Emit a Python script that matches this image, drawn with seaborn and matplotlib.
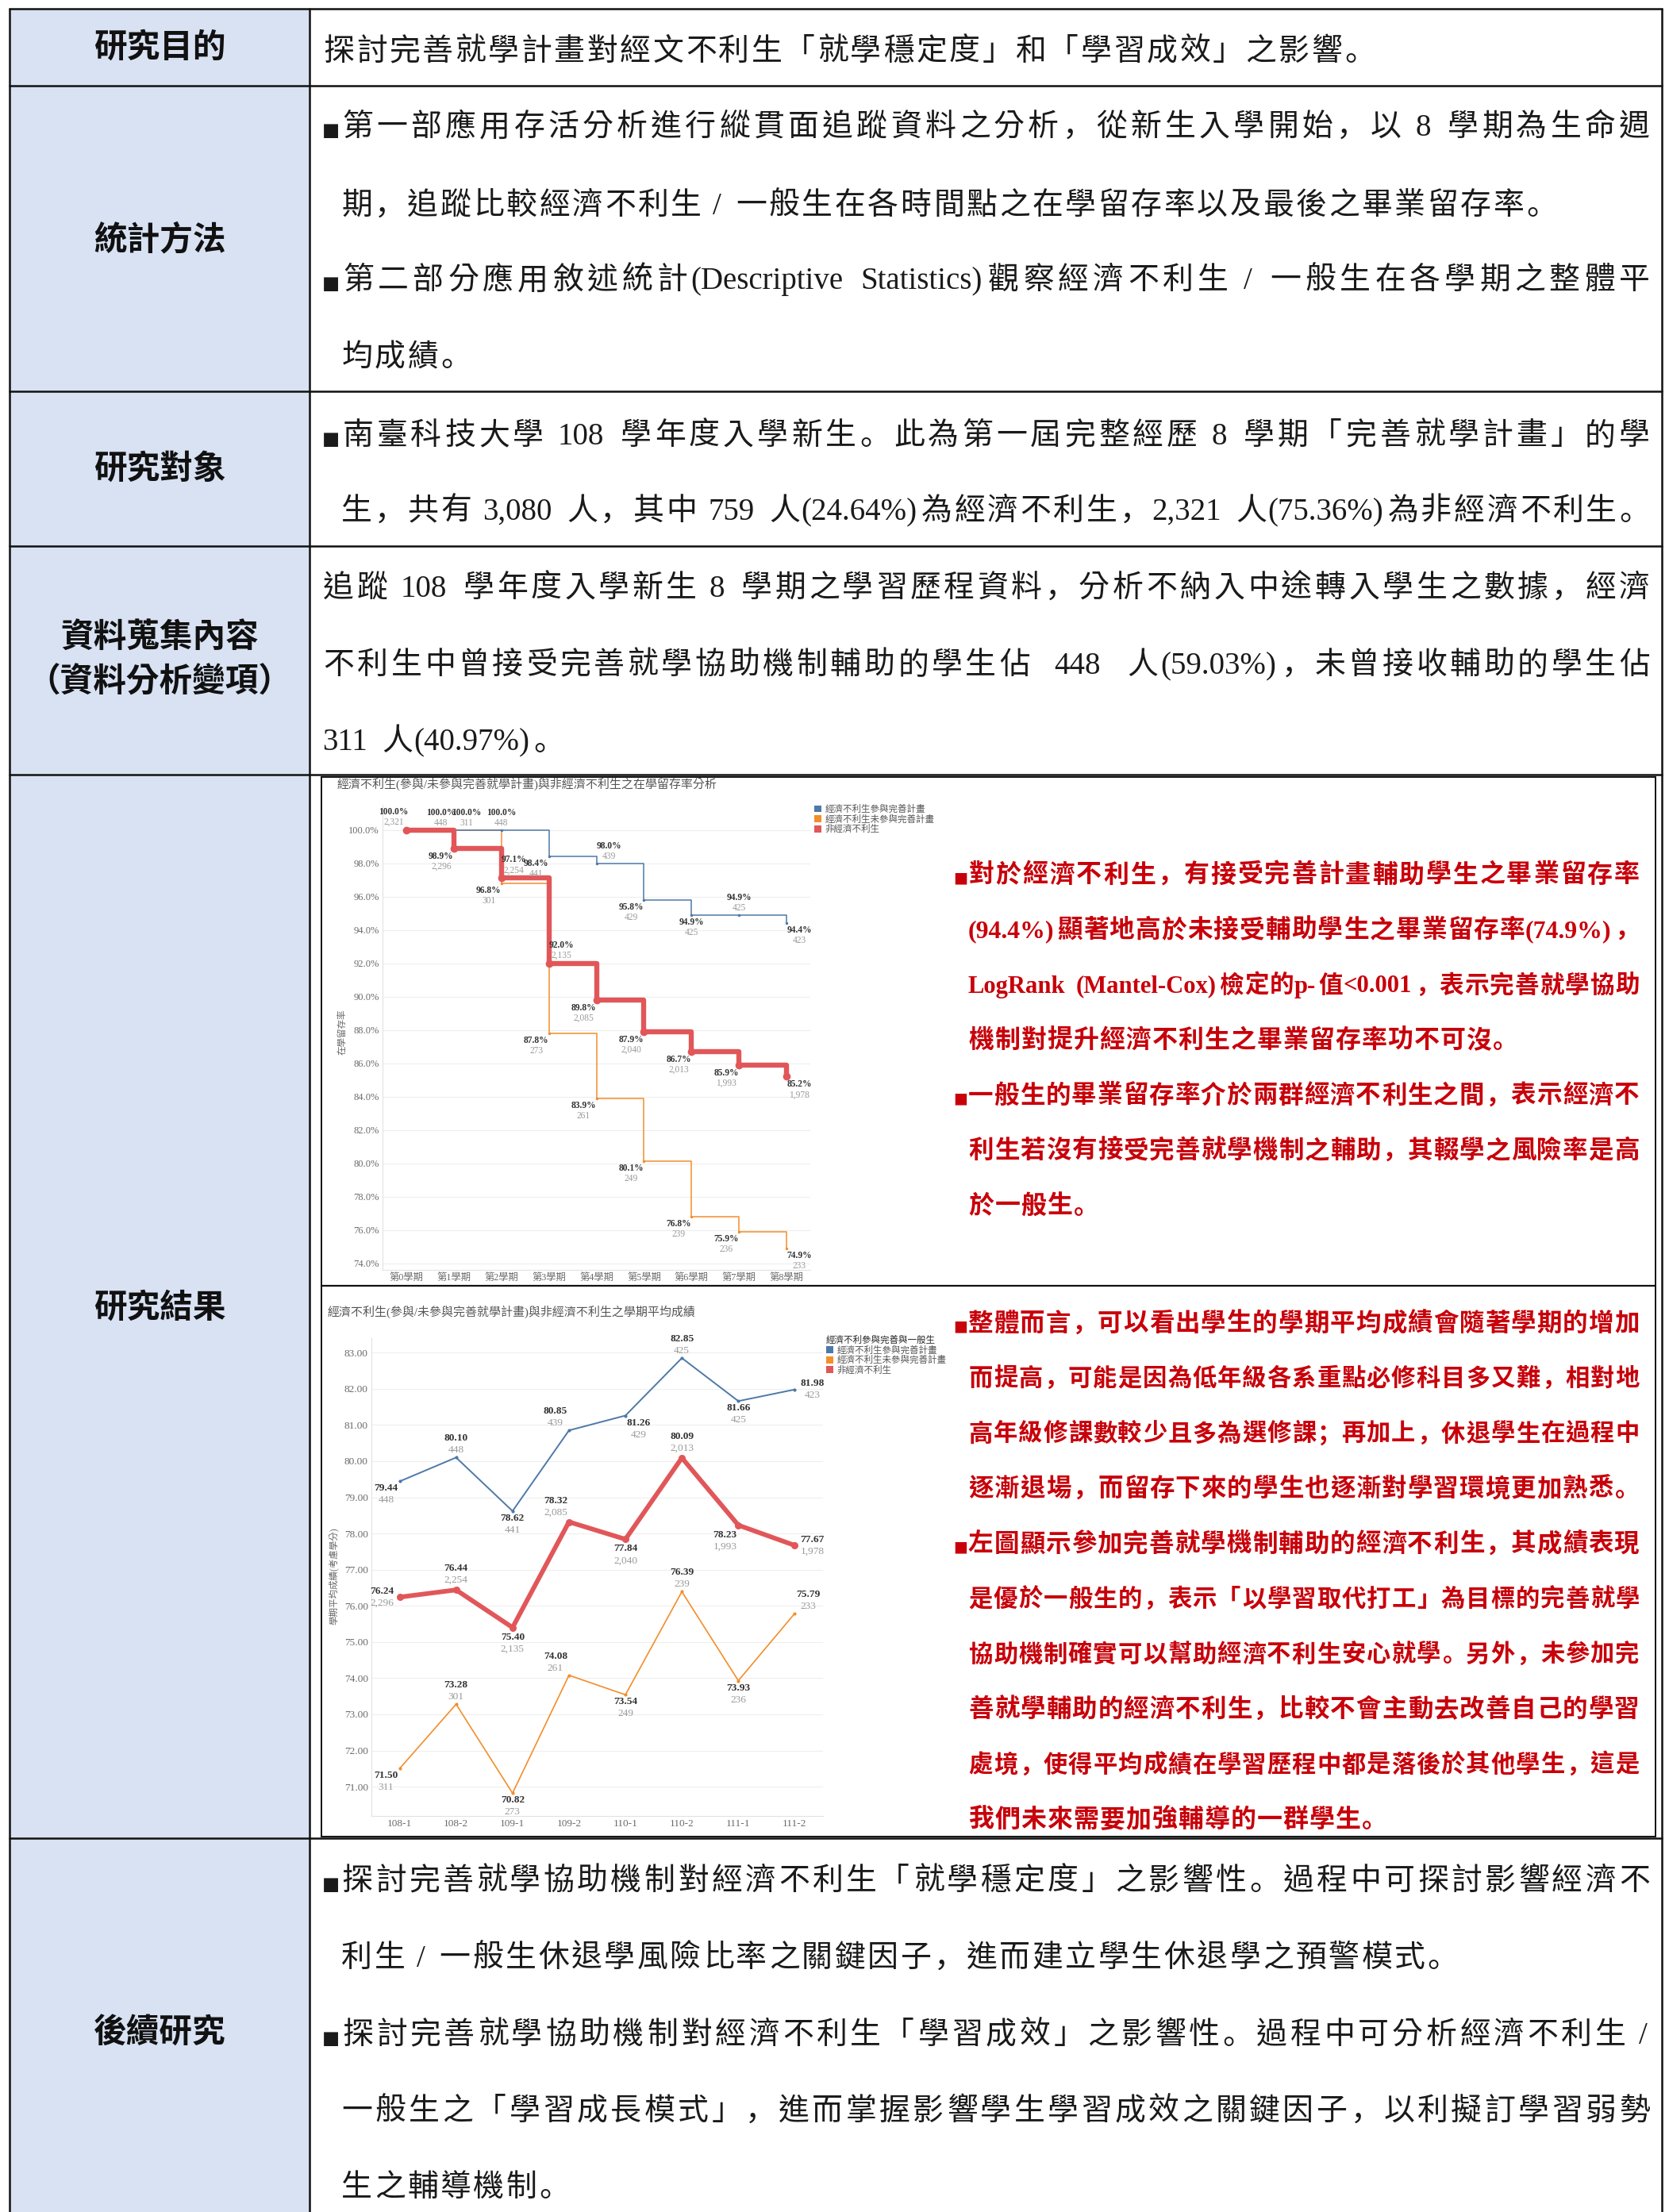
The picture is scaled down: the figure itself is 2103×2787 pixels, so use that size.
import re
import matplotlib
matplotlib.use('Agg')
import matplotlib.pyplot as plt
from matplotlib.patches import Rectangle, Patch
import seaborn as sns

W, H = 2103, 2787

# ---- chart 1: retention rate per semester
sem_labels = ['第0學期', '第1學期', '第2學期', '第3學期', '第4學期',
              '第5學期', '第6學期', '第7學期', '第8學期']
sem_nonecon = [0, 1, 2, 3, 4, 5, 6, 7, 8]
rate_nonecon = [100.0, 98.9, 97.1, 92.0, 89.8, 87.9, 86.7, 85.9, 85.2]
n_nonecon = [2321, 2296, 2254, 2135, 2085, 2040, 2013, 1993, 1978]
sem_join = [1, 2, 3, 4, 5, 6, 7, 8]
rate_join = [100.0, 100.0, 98.4, 98.0, 95.8, 94.9, 94.9, 94.4]
n_join = [448, 448, 441, 439, 429, 425, 425, 423]
sem_nojoin = [1, 2, 3, 4, 5, 6, 7, 8]
rate_nojoin = [100.0, 96.8, 87.8, 83.9, 80.1, 76.8, 75.9, 74.9]
n_nojoin = [311, 301, 273, 261, 249, 239, 236, 233]

# ---- chart 2: average grade per term
terms = ['108-1', '108-2', '109-1', '109-2', '110-1', '110-2', '111-1', '111-2']
grade_join = [79.44, 80.10, 78.62, 80.85, 81.26, 82.85, 81.66, 81.98]
gn_join = [448, 448, 441, 439, 429, 425, 425, 423]
grade_nojoin = [71.50, 73.28, 70.82, 74.08, 73.54, 76.39, 73.93, 75.79]
gn_nojoin = [311, 301, 273, 261, 249, 239, 236, 233]
grade_nonecon = [76.24, 76.44, 75.40, 78.32, 77.84, 80.09, 78.23, 77.67]
gn_nonecon = [2296, 2254, 2135, 2085, 2040, 2013, 1993, 1978]

legend_names = ['經濟不利生參與完善計畫', '經濟不利生未參與完善計畫', '非經濟不利生']

C_BLUE, C_ORANGE, C_RED = '#4e79a7', '#f28e2b', '#e15759'
LIGHT_BLUE = '#d9e2f3'
TXT_RED = '#c8000a'

sns.set_theme(style='white')
plt.rcParams['font.family'] = ['Liberation Serif', 'Noto Sans CJK TC', 'DejaVu Sans']
CH = ['Liberation Serif', 'Noto Sans CJK TC', 'DejaVu Sans']
PUNCT_FAM = ['Noto Sans CJK SC', 'DejaVu Sans']

fig = plt.figure(figsize=(W / 100, H / 100), dpi=100)
fig.patch.set_facecolor('white')
rend = fig.canvas.get_renderer()

bg = fig.add_axes([0, 0, 1, 1])
bg.set_xlim(0, W)
bg.set_ylim(H, 0)
bg.axis('off')


def box(l, r, t, b):
    return [l / W, 1 - b / H, (r - l) / W, (b - t) / H]


# ---- table frame
LEFT, MID, RIGHT, TOP = 12, 390, 2094, 11
row_lines = [TOP, 108, 493, 688, 976, 2316]
bg.add_patch(Rectangle((LEFT, TOP), MID - LEFT, H - TOP, facecolor=LIGHT_BLUE,
                       edgecolor='none', zorder=0))
for yy in row_lines:
    bg.plot([LEFT, RIGHT], [yy, yy], color='#111111', lw=1.8, zorder=3)
for xx in [LEFT, MID, RIGHT]:
    bg.plot([xx, xx], [TOP, H], color='#111111', lw=1.8, zorder=3)

# picture frame inside the results cell
bg.add_patch(Rectangle((405, 979), 2086 - 405, 2314 - 979, facecolor='none',
                       edgecolor='#111111', lw=1.4, zorder=3))
bg.plot([405, 2086], [1620, 1620], color='#111111', lw=1.6, zorder=3)

# ---- left column headers
heads = [('研究目的', 60), ('統計方法', 302), ('研究對象', 591),
         ('資料蒐集內容', 803), ('（資料分析變項）', 860), ('研究結果', 1648),
         ('後續研究', 2561)]
for s, yc in heads:
    bg.text(201, yc, s, ha='center', va='center', fontsize=30, fontweight='bold',
            family=['Noto Sans CJK TC'], color='#111111')

# ---- justified text lines
TOK = re.compile(r'[!-~]+| |.')
PUNCT = set('，。、；：')


def put_line(x0, x1, yc, s, size, adv, color, weight='normal', justify=True):
    em = size / 0.72
    base = yc + 0.36 * em
    items = []
    for tk in TOK.findall(s):
        if tk == ' ':
            items.append([None, 0.33 * em, 'sp'])
        elif tk == '■':
            t = bg.text(0, base, tk, fontsize=size * 0.6, family=['DejaVu Sans'],
                        color=color, va='baseline', ha='left')
            items.append([t, 0.58 * em, 'asc'])
        elif ord(tk[0]) < 128:
            t = bg.text(0, base, tk, fontsize=size, family=CH, color=color,
                        fontweight=weight, va='baseline', ha='left')
            items.append([t, t.get_window_extent(rend).width + 0.1 * em, 'asc'])
        elif tk in PUNCT:
            t = bg.text(0, base, tk, fontsize=size, family=PUNCT_FAM, color=color,
                        fontweight=weight, va='baseline', ha='left')
            items.append([t, adv, 'pun'])
        else:
            ha = 'right' if tk == '「' else 'left' if tk == '」' else 'center'
            t = bg.text(0, base, tk, fontsize=size, family=['Noto Sans CJK TC'],
                        color=color, fontweight=weight, va='baseline', ha=ha)
            items.append([t, adv, ha])
    nat = sum(it[1] for it in items)
    if x1 is not None and nat > x1 - x0:
        # line too long: shrink the whole line a little instead of overlapping
        k = (x1 - x0) / nat
        for it in items:
            it[1] *= k
            if it[0] is not None:
                it[0].set_fontsize(it[0].get_fontsize() * k)
        em *= k
        nat = x1 - x0
    gap = 0
    if justify and x1 is not None and len(items) > 1:
        gap = (x1 - x0 - nat) / (len(items) - 1)
    x = x0
    for t, w, kind in items:
        if t is not None:
            if kind == 'center':
                t.set_x(x + w / 2)
            elif kind == 'right':
                t.set_x(x + w - 0.06 * em)
            elif kind in ('left', 'pun'):
                t.set_x(x + 0.04 * em)
            else:
                t.set_x(x)
        x += w + gap


BODY_SIZE, BODY_ADV, BODY_COL = 28, 41.5, '#1a1a1a'
X_B, X_C, X_R = 406, 429, 2080
body_lines = [
    (X_B, None, 62, '探討完善就學計畫對經文不利生「就學穩定度」和「學習成效」之影響。', False),
    (X_B, X_R, 157, '■第一部應用存活分析進行縱貫面追蹤資料之分析，從新生入學開始，以 8 學期為生命週', True),
    (X_C, X_R, 256, '期，追蹤比較經濟不利生 / 一般生在各時間點之在學留存率以及最後之畢業留存率。', False),
    (X_B, X_R, 350, '■第二部分應用敘述統計(Descriptive Statistics)觀察經濟不利生 / 一般生在各學期之整體平', True),
    (X_C, X_R, 447, '均成績。', False),
    (X_B, X_R, 546, '■南臺科技大學 108 學年度入學新生。此為第一屆完整經歷 8 學期「完善就學計畫」的學', True),
    (X_C, X_R, 641, '生，共有 3,080 人，其中 759 人(24.64%)為經濟不利生，2,321 人(75.36%)為非經濟不利生。', True),
    (X_B, X_R, 738, '追蹤 108 學年度入學新生 8 學期之學習歷程資料，分析不納入中途轉入學生之數據，經濟', True),
    (X_B, X_R, 835, '不利生中曾接受完善就學協助機制輔助的學生佔  448  人(59.03%)，未曾接收輔助的學生佔', True),
    (X_B, X_R, 931, '311 人(40.97%)。', False),
    (X_B, X_R, 2367, '■探討完善就學協助機制對經濟不利生「就學穩定度」之影響性。過程中可探討影響經濟不', True),
    (X_C, X_R, 2464, '利生 / 一般生休退學風險比率之關鍵因子，進而建立學生休退學之預警模式。', False),
    (X_B, X_R, 2561, '■探討完善就學協助機制對經濟不利生「學習成效」之影響性。過程中可分析經濟不利生 /', True),
    (X_C, X_R, 2657, '一般生之「學習成長模式」，進而掌握影響學生學習成效之關鍵因子，以利擬訂學習弱勢', True),
    (X_C, X_R, 2753, '生之輔導機制。', False),
]
for x0, x1, yc, s, just in body_lines:
    put_line(x0, x1, yc, s, BODY_SIZE, BODY_ADV, BODY_COL, justify=just)

RED_SIZE, RED_ADV, RED_R = 23, 33, 2066
red_block1 = [
    '■對於經濟不利生，有接受完善計畫輔助學生之畢業留存率',
    '(94.4%)顯著地高於未接受輔助學生之畢業留存率(74.9%)，',
    'LogRank (Mantel-Cox)檢定的p-值<0.001，表示完善就學協助',
    '機制對提升經濟不利生之畢業留存率功不可沒。',
    '■一般生的畢業留存率介於兩群經濟不利生之間，表示經濟不',
    '利生若沒有接受完善就學機制之輔助，其輟學之風險率是高',
    '於一般生。',
]
red_block2 = [
    '■整體而言，可以看出學生的學期平均成績會隨著學期的增加',
    '而提高，可能是因為低年級各系重點必修科目多又難，相對地',
    '高年級修課數較少且多為選修課；再加上，休退學生在過程中',
    '逐漸退場，而留存下來的學生也逐漸對學習環境更加熟悉。',
    '■左圖顯示參加完善就學機制輔助的經濟不利生，其成績表現',
    '是優於一般生的，表示「以學習取代打工」為目標的完善就學',
    '協助機制確實可以幫助經濟不利生安心就學。另外，未參加完',
    '善就學輔助的經濟不利生，比較不會主動去改善自己的學習',
    '處境，使得平均成績在學習歷程中都是落後於其他學生，這是',
    '我們未來需要加強輔導的一群學生。',
]
red_last = {3, 6, 13, 19}
for block, y0, k0 in [(red_block1, 1100, 0), (red_block2, 1665, 10)]:
    for i, s in enumerate(block):
        x0 = 1201 if s.startswith('■') else 1220
        last = (k0 + i) in red_last
        put_line(x0, RED_R, y0 + i * 69.5, s, RED_SIZE, RED_ADV,
                 TXT_RED, weight='bold', justify=not last)

# ---- data label helper
OFFS = {'a': (0, -1), 'b': (0, 1), 'al': (-1, -1), 'ar': (1, -1),
        'bl': (-1, 1), 'br': (1, 1), 'l': (-1.3, 0), 'r': (1.3, 0)}


def label_points(ax, xs, ys, ns, places, fmt, size, dy, step, pad=0, dx=15):
    for x, y, n, p in zip(xs, ys, ns, places):
        hx, vy = OFFS[p]
        if vy > 0:
            y1 = -(dy + pad)
            y2 = y1 - step
        elif vy < 0:
            y2 = dy + pad
            y1 = y2 + step
        else:
            y1, y2 = step / 2, -step / 2
        ax.annotate(fmt(y), (x, y), xytext=(hx * dx, y1), textcoords='offset pixels',
                    ha='center', va='center', fontsize=size, color='#333333',
                    fontweight='bold', family=CH, annotation_clip=False)
        ax.annotate(f'{n:,}', (x, y), xytext=(hx * dx, y2), textcoords='offset pixels',
                    ha='center', va='center', fontsize=size, color='#9a9a9a',
                    family=CH, annotation_clip=False)


def style_axes(ax):
    ax.set_facecolor('none')
    for sp in ['top', 'right']:
        ax.spines[sp].set_visible(False)
    for sp in ['left', 'bottom']:
        ax.spines[sp].set_color('#e2e2e2')
        ax.spines[sp].set_linewidth(0.8)
    ax.yaxis.grid(True, color='#eeeeee', lw=0.8)
    ax.xaxis.grid(False)
    ax.tick_params(length=0, pad=3, colors='#6b6b6b')
    ax.set_xlabel('')
    ax.set_ylabel('')


# ---- chart 1
ax1 = fig.add_axes(box(482, 1021, 1014, 1600))
series1 = [
    (sem_nojoin, rate_nojoin, n_nojoin, C_ORANGE, 1.1, 2.5, 0,
     ['ar', 'bl', 'bl', 'bl', 'bl', 'bl', 'bl', 'br']),
    (sem_join, rate_join, n_join, C_BLUE, 1.1, 2.5, 0,
     ['al', 'a', 'bl', 'ar', 'bl', 'b', 'a', 'br']),
    (sem_nonecon, rate_nonecon, n_nonecon, C_RED, 4.6, 7, 1,
     ['al', 'bl', 'ar', 'ar', 'bl', 'bl', 'bl', 'bl', 'br']),
]
for xs, ys, ns, col, lw, ms, pad, places in series1:
    sns.lineplot(x=xs, y=ys, ax=ax1, color=col, lw=lw, drawstyle='steps-post',
                 marker='o', markersize=ms, markeredgewidth=0, legend=False)
    label_points(ax1, xs, ys, ns, places, lambda v: f'{v:.1f}%', 8.3,
                 dy=9, step=13, pad=pad, dx=16)
ax1.set_xlim(-0.5, 8.5)
ax1.set_ylim(73.6, 101.5)
ax1.set_xticks(range(len(sem_labels)))
ax1.set_xticklabels(sem_labels, fontsize=8.8, family=CH)
ax1.set_yticks(range(74, 101, 2))
ax1.set_yticklabels([f'{v:.1f}%' for v in range(74, 101, 2)], fontsize=9, family=CH)
style_axes(ax1)

bg.text(425, 988, '經濟不利生(參與/未參與完善就學計畫)與非經濟不利生之在學留存率分析',
        ha='left', va='center', fontsize=10.8, color='#555555', family=CH)
bg.text(432, 1300, '在學留存率', rotation=90, ha='center', va='center',
        fontsize=8.3, color='#666666', family=CH)
handles = [Patch(facecolor=c, edgecolor='none') for c in [C_BLUE, C_ORANGE, C_RED]]
fig.legend(handles, legend_names, loc='upper left',
           bbox_to_anchor=(1026 / W, 1 - 1014 / H), frameon=False,
           handlelength=0.8, handleheight=0.8, handletextpad=0.35, labelspacing=0.05,
           borderpad=0, borderaxespad=0, labelcolor='#555555',
           prop={'family': CH, 'size': 8.3})

# ---- chart 2
ax2 = fig.add_axes(box(468, 1037, 1686, 2288))
xi = list(range(len(terms)))
series2 = [
    (grade_join, gn_join, C_BLUE, 1.4, 3, 0,
     ['bl', 'a', 'b', 'al', 'br', 'a', 'b', 'r']),
    (grade_nojoin, gn_nojoin, C_ORANGE, 1.2, 3, 0,
     ['bl', 'a', 'b', 'al', 'b', 'a', 'b', 'ar']),
    (grade_nonecon, gn_nonecon, C_RED, 4.2, 6.5, 3,
     ['l', 'a', 'b', 'al', 'b', 'a', 'bl', 'r']),
]
for ys, ns, col, lw, ms, pad, places in series2:
    sns.lineplot(x=xi, y=ys, ax=ax2, color=col, lw=lw, marker='o', markersize=ms,
                 markeredgewidth=0, legend=False)
    label_points(ax2, xi, ys, ns, places, lambda v: f'{v:.2f}', 9.6,
                 dy=9, step=15, pad=pad, dx=17)
ax2.set_xlim(-0.5, 7.5)
ax2.set_ylim(70.19, 83.4)
ax2.set_xticks(xi)
ax2.set_xticklabels(terms, fontsize=9.6, family=CH)
ax2.set_yticks(range(71, 84))
ax2.set_yticklabels([f'{v:.2f}' for v in range(71, 84)], fontsize=9.6, family=CH)
style_axes(ax2)

bg.text(413, 1653, '經濟不利生(參與/未參與完善就學計畫)與非經濟不利生之學期平均成績',
        ha='left', va='center', fontsize=10.8, color='#555555', family=CH)
bg.text(420, 1986, '學期平均成績(考慮學分)', rotation=90, ha='center', va='center',
        fontsize=8.3, color='#666666', family=CH)
fig.legend(handles, legend_names, loc='upper left', title='經濟不利參與完善與一般生',
           bbox_to_anchor=(1041 / W, 1 - 1683 / H), frameon=False,
           handlelength=0.8, handleheight=0.8, handletextpad=0.35, labelspacing=0.05,
           borderpad=0, borderaxespad=0, labelcolor='#555555', alignment='left',
           prop={'family': CH, 'size': 8.3}, title_fontproperties={'family': CH, 'size': 8.3})

fig.savefig('out.png', dpi=100, facecolor='white')
